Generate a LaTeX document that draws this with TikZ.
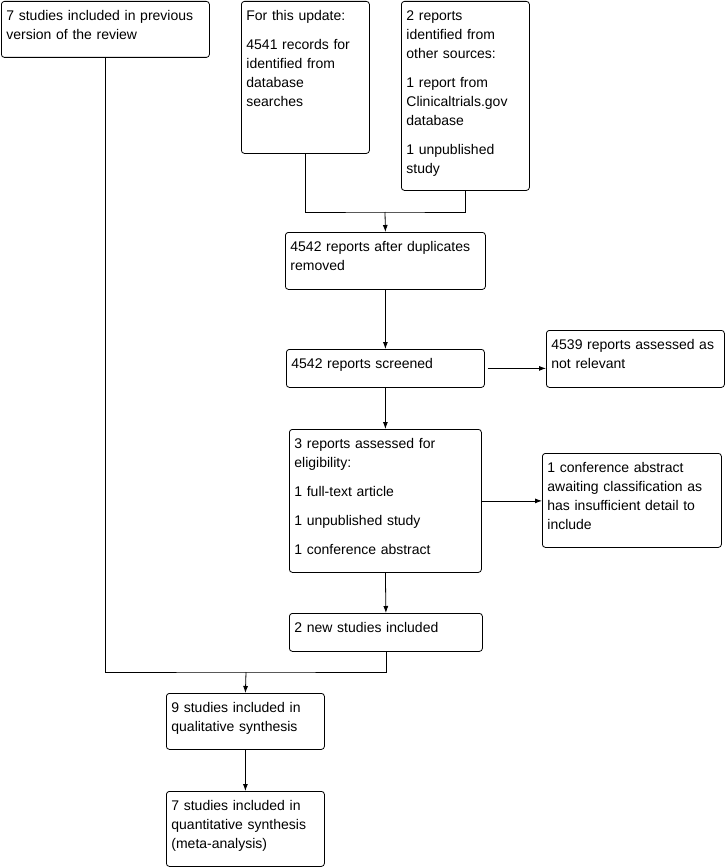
\documentclass[tikz,border=0pt]{standalone}
\usepackage{fontspec}
\setmainfont{Liberation Sans}
\usetikzlibrary{arrows.meta}
\tikzset{
  pbox/.style={draw, line width=0.8pt, rounded corners=3pt, anchor=north west,
    inner xsep=5pt, inner ysep=0pt, align=left, text height=19pt,
    font=\fontsize{14}{19}\selectfont},
  conn/.style={line width=0.8pt},
  arr/.style={conn, -{Latex[length=7pt,width=5pt]}}
}
\begin{document}
\begin{tikzpicture}[x=1pt,y=-1pt]
\useasboundingbox (0,0) rectangle (726,867);
\node[pbox, text width=198pt, text depth=37pt] (A) at (1,1)
  {7 studies included in previous\\version of the review};
\node[pbox, text width=118pt, text depth=133pt] (B) at (241,1)
  {For this update:\\[10pt]4541 records for\\identified from\\database\\searches};
\node[pbox, text width=118pt, text depth=170pt] (C) at (401,1)
  {2 reports\\identified from\\other sources:\\[10pt]1 report from\\Clinicaltrials.gov\\database\\[10pt]1 unpublished\\study};
\node[pbox, text width=190pt, text depth=38pt] (D) at (285,232)
  {4542 reports after duplicates\\removed};
\node[pbox, text width=188pt, text depth=19pt] (E) at (286,349)
  {4542 reports screened};
\node[pbox, text width=168pt, text depth=38pt] (F) at (546,330)
  {4539 reports assessed as\\not relevant};
\node[pbox, text width=182pt, text depth=124pt] (G) at (289,429)
  {3 reports assessed for\\eligibility:\\[10pt]1 full-text article\\[10pt]1 unpublished study\\[10pt]1 conference abstract};
\node[pbox, text width=169pt, text depth=75pt] (H) at (542,453)
  {1 conference abstract\\awaiting classification as\\has insufficient detail to\\include};
\node[pbox, text width=183pt, text depth=19pt] (I) at (289,613)
  {2 new studies included};
\node[pbox, text width=148pt, text depth=37pt] (J) at (166,693)
  {9 studies included in\\qualitative synthesis};
\node[pbox, text width=148pt, text depth=56pt] (K) at (166,791)
  {7 studies included in\\quantitative synthesis\\(meta-analysis)};
\coordinate (j1) at (385,212);
\coordinate (j2) at (246,672);
\draw[conn] (B.south) |- (j1) -| (C.south);
\draw[arr] (j1) -- (D.north);
\draw[arr] (D.south) -- (E.north);
\draw[arr, shorten <=3pt] (E.east) -- (E.east -| F.west);
\draw[arr] (E.south) -- (G.north);
\draw[arr] (G.east) -- (G.east -| H.west);
\draw[arr] (G.south) -- (I.north);
\draw[conn] (I.south) |- (j2) -| (A.south);
\draw[arr] (j2) -- (J.north);
\draw[arr] (J.south) -- (K.north);
\end{tikzpicture}
\end{document}
